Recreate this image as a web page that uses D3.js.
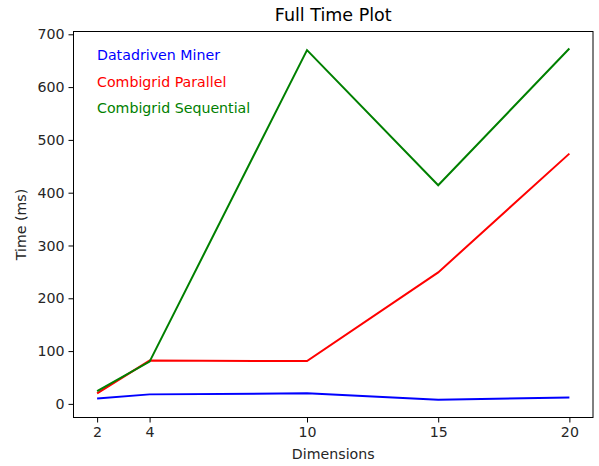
<!DOCTYPE html>
<html><head><meta charset="utf-8">
<script src="https://cdn.jsdelivr.net/npm/d3@7"></script>
<style>
body{margin:0;background:#fff;}
text{font-family:"DejaVu Sans",sans-serif;}
</style></head>
<body><svg id="c" width="599" height="466"></svg>
<script>
const dims = [2, 4, 10, 15, 20];
const datadrivenMiner = [10, 18, 20, 8, 12];
const combigridParallel = [20, 82, 81, 249, 474];
const combigridSequential = [24, 80, 670, 414, 673];
const xTicks = [2, 4, 10, 15, 20];
const yTicks = [0, 100, 200, 300, 400, 500, 600, 700];
const seriesNames = ["Datadriven Miner", "Combigrid Parallel", "Combigrid Sequential"];
const seriesColors = ["#0000ff", "#ff0000", "#008000"];

const svg = d3.select("#c");
const L = 73.5, R = 593, T = 31.5, B = 417.5;
const x = d3.scaleLinear().domain([1.1, 20.9]).range([L, R]);
const y = d3.scaleLinear().domain([-25.8, 705.3]).range([B, T]);

const fs = 14.2;
// axes
const xa = svg.append("g").attr("transform", `translate(0,${B})`)
  .call(d3.axisBottom(x).tickValues(xTicks).tickSize(5).tickPadding(4).tickFormat(d3.format("d")));
const ya = svg.append("g").attr("transform", `translate(${L},0)`)
  .call(d3.axisLeft(y).tickValues(yTicks).tickSize(5).tickPadding(4).tickFormat(d3.format("d")));
[xa, ya].forEach(a => {
  a.select(".domain").remove();
  a.selectAll("line").attr("stroke", "#000").attr("stroke-width", 1);
  a.selectAll("text").attr("font-size", fs).attr("fill", "#262626").attr("font-family", "DejaVu Sans");
});
// frame
svg.append("rect").attr("x", L).attr("y", T).attr("width", R - L).attr("height", B - T)
  .attr("fill", "none").attr("stroke", "#000").attr("stroke-width", 1);

const allSeries = [datadrivenMiner, combigridParallel, combigridSequential];
const line = d3.line().x((d, i) => x(dims[i])).y(d => y(d));
allSeries.forEach((s, k) => {
  svg.append("path").datum(s).attr("d", line).attr("fill", "none")
    .attr("stroke", seriesColors[k]).attr("stroke-width", 2).attr("stroke-linejoin", "miter");
});

// legend (text only)
seriesNames.forEach((n, k) => {
  svg.append("text").attr("x", 97).attr("y", 60 + k * 26.5).attr("fill", seriesColors[k])
    .attr("font-size", fs).text(n);
});

svg.append("text").attr("x", (L + R) / 2).attr("y", 21).attr("text-anchor", "middle")
  .attr("font-size", 17.5).attr("fill", "#000").text("Full Time Plot");
svg.append("text").attr("x", (L + R) / 2).attr("y", 459).attr("text-anchor", "middle")
  .attr("font-size", fs).attr("fill", "#262626").text("Dimensions");
svg.append("text").attr("transform", `translate(26,${(T + B) / 2}) rotate(-90)`).attr("text-anchor", "middle")
  .attr("font-size", fs).attr("fill", "#262626").text("Time (ms)");
</script></body></html>
